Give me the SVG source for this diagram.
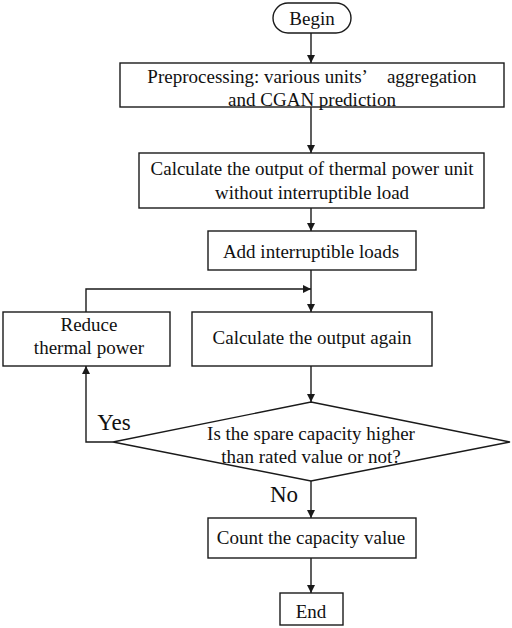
<svg xmlns="http://www.w3.org/2000/svg" width="512" height="628" viewBox="0 0 512 628">
<defs>
<marker id="arr" viewBox="0 0 10 10" refX="10" refY="5" markerWidth="8" markerHeight="8" markerUnits="userSpaceOnUse" orient="auto">
<path d="M0,0 L10,5 L0,10 z" fill="#1a1a1a"/>
</marker>
<style>
.box{fill:#fff;stroke:#1a1a1a;stroke-width:1.4}
.t{font-family:"Liberation Serif","Times New Roman",serif;font-size:19px;fill:#111;text-anchor:middle;dominant-baseline:central}
.lab{font-size:23px}
.c{fill:none;stroke:#1a1a1a;stroke-width:1.4;marker-end:url(#arr)}
</style>
</defs>
<rect width="512" height="628" fill="#fff"/>
<g id="connectors">
<line class="c" x1="311" y1="33" x2="311" y2="63"/>
<line class="c" x1="311" y1="107" x2="311" y2="153"/>
<line class="c" x1="311" y1="208" x2="311" y2="231"/>
<line class="c" x1="311" y1="270" x2="311" y2="312"/>
<polyline class="c" points="86,312 86,289 311,289"/>
<line class="c" x1="311" y1="366" x2="311" y2="402"/>
<polyline class="c" points="113,442 86,442 86,366"/>
<line class="c" x1="311" y1="481" x2="311" y2="518"/>
<line class="c" x1="311" y1="558" x2="311" y2="593"/>
<text class="t lab" x="114" y="422">Yes</text>
<text class="t lab" x="284" y="494">No</text>
</g>
<g id="begin">
<rect class="box" x="273" y="3" width="78" height="30" rx="15"/>
<text class="t" x="312" y="18">Begin</text>
</g>
<g id="preprocess">
<rect class="box" x="120" y="63" width="384" height="44"/>
<text class="t" x="312" y="76">Preprocessing: various units’&#160;&#160;&#160; aggregation</text>
<text class="t" x="312" y="99">and CGAN prediction</text>
</g>
<g id="calc1">
<rect class="box" x="139" y="153" width="345" height="55"/>
<text class="t" x="312" y="168">Calculate the output of thermal power unit</text>
<text class="t" x="312" y="192">without interruptible load</text>
</g>
<g id="addload">
<rect class="box" x="208" y="231" width="208" height="39"/>
<text class="t" x="311" y="251">Add interruptible loads</text>
</g>
<g id="reduce">
<rect class="box" x="3" y="312" width="167" height="54"/>
<text class="t" x="89" y="324">Reduce</text>
<text class="t" x="89" y="347">thermal power</text>
</g>
<g id="calc2">
<rect class="box" x="192" y="312" width="240" height="54"/>
<text class="t" x="312" y="337">Calculate the output again</text>
</g>
<g id="decision">
<polygon class="box" points="311,402 510,442 311,481 113,442"/>
<text class="t" x="311" y="433">Is the spare capacity higher</text>
<text class="t" x="311" y="456">than rated value or not?</text>
</g>
<g id="count">
<rect class="box" x="208" y="518" width="208" height="40"/>
<text class="t" x="311" y="537">Count the capacity value</text>
</g>
<g id="end">
<rect class="box" x="280" y="593" width="63" height="32"/>
<text class="t" x="311" y="611">End</text>
</g>
</svg>
